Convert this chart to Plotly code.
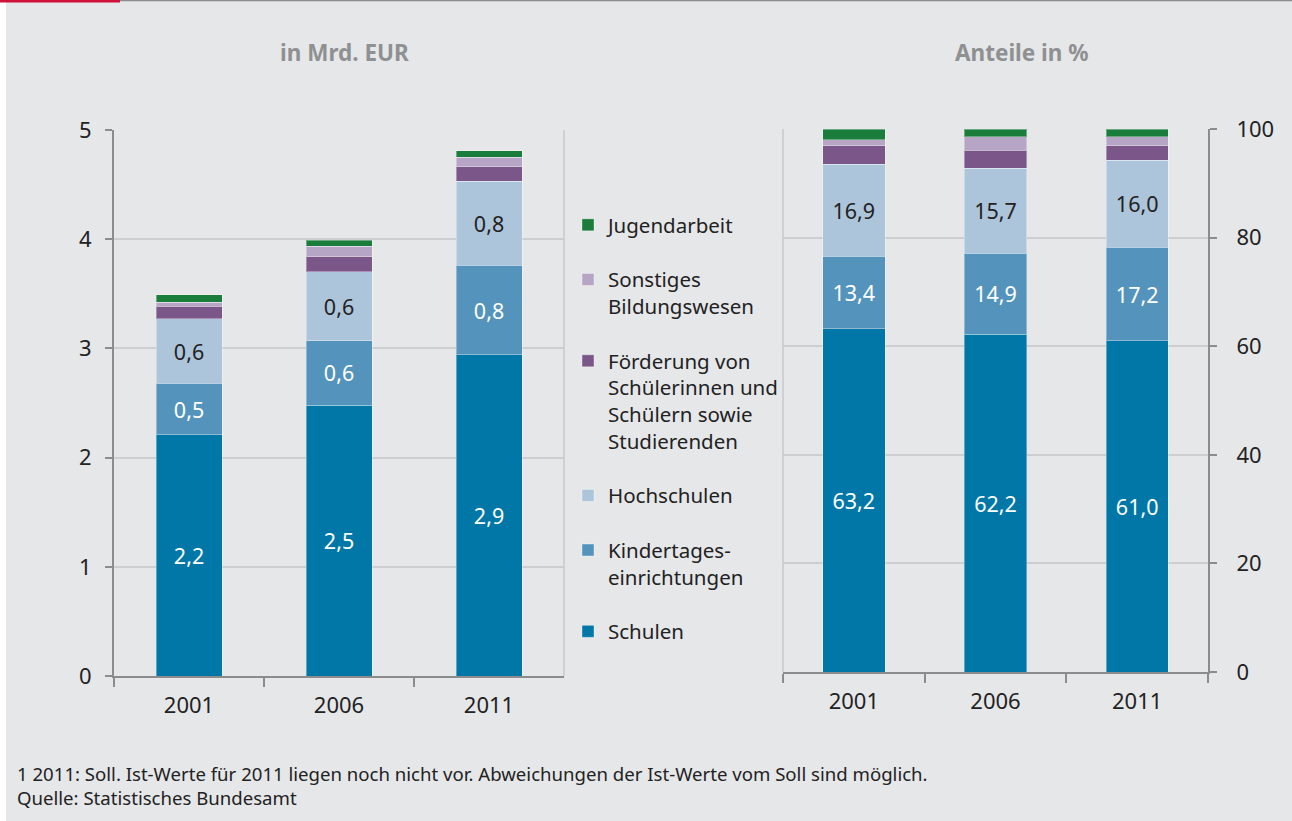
import plotly.graph_objects as go

years = ["2001", "2006", "2011"]
series = ["Schulen", "Kindertages-<br>einrichtungen", "Hochschulen",
          "Förderung von<br>Schülerinnen und<br>Schülern sowie<br>Studierenden",
          "Sonstiges<br>Bildungswesen", "Jugendarbeit"]
colors = ["#0077a7", "#5494bc", "#adc5da", "#7a5689", "#b7a5c5", "#1b7d3b"]

# in Mrd. EUR
schulen_eur = [2.21, 2.48, 2.94]
kita_eur = [0.47, 0.59, 0.82]
hoch_eur = [0.59, 0.63, 0.77]
foerd_eur = [0.115, 0.14, 0.134]
sonst_eur = [0.037, 0.094, 0.086]
jugend_eur = [0.07, 0.055, 0.061]

# Anteile in %
schulen_pct = [63.2, 62.2, 61.0]
kita_pct = [13.4, 14.9, 17.2]
hoch_pct = [16.9, 15.7, 16.0]
foerd_pct = [3.4, 3.3, 2.7]
sonst_pct = [1.1, 2.5, 1.7]
jugend_pct = [2.0, 1.4, 1.4]

eur = [schulen_eur, kita_eur, hoch_eur, foerd_eur, sonst_eur, jugend_eur]
pct = [schulen_pct, kita_pct, hoch_pct, foerd_pct, sonst_pct, jugend_pct]
label_colors = ["white", "white", "#222222", None, None, None]

W, H = 1292, 821
FONT = "Noto Sans"
fig = go.Figure()

for i, name in enumerate(series):
    show_text = label_colors[i] is not None
    common = dict(
        marker=dict(color=colors[i], line=dict(color="rgba(255,255,255,0.35)", width=1)),
        width=0.44,
        textposition="inside" if show_text else "none",
        insidetextanchor="middle",
        textangle=0,
        textfont=dict(color=label_colors[i] or "white", size=21.5, family=FONT),
        legendgroup=f"g{i}",
        legendrank=100 - i,
        hoverinfo="skip",
    )
    fig.add_trace(go.Bar(x=years, y=eur[i], name=name, xaxis="x", yaxis="y",
                         texttemplate="%{y:.1f}" if show_text else None,
                         showlegend=True, **common))
    fig.add_trace(go.Bar(x=years, y=pct[i], name=name, xaxis="x2", yaxis="y2",
                         texttemplate="%{y:.1f}" if show_text else None,
                         showlegend=False, **common))

def px_x(p):
    return p / W

def px_y(p):
    return 1 - p / H

axis_line = "#8c8c8c"
grid = "#cdced0"
tickfont = dict(family=FONT, size=22, color="#222222")

xcommon = dict(type="category", showline=True, linecolor=axis_line, linewidth=2,
               ticks="outside", tickson="boundaries", ticklen=9, tickcolor=axis_line,
               tickwidth=1.5, tickfont=tickfont, showgrid=False, automargin=False,
               zeroline=False, ticklabelstandoff=9)
ycommon = dict(showline=True, linecolor=axis_line, linewidth=2, ticks="outside", ticklen=7,
               tickcolor=axis_line, tickwidth=1.5, tickfont=tickfont, gridcolor=grid,
               gridwidth=1.5, zeroline=False, automargin=False)

fig.update_layout(
    template="none",
    width=W, height=H, autosize=False,
    margin=dict(l=0, r=0, t=0, b=0, pad=0),
    paper_bgcolor="#e6e7e9", plot_bgcolor="#e6e7e9",
    barmode="stack",
    separators=",.",
    font=dict(family=FONT, color="#222222"),
    xaxis=dict(domain=[px_x(114), px_x(564)], anchor="y", **xcommon),
    yaxis=dict(domain=[px_y(676), px_y(130)], anchor="x", range=[0, 5], dtick=1,
               ticklabelstandoff=9, **ycommon),
    xaxis2=dict(domain=[px_x(783), px_x(1208)], anchor="y2", **xcommon),
    yaxis2=dict(domain=[px_y(672), px_y(129)], anchor="x2", side="right", range=[0, 100],
                dtick=20, ticklabelstandoff=15, **ycommon),
    legend=dict(x=px_x(568), xanchor="left", y=px_y(205), yanchor="top",
                font=dict(family=FONT, size=20.5, color="#222222"),
                tracegroupgap=25, valign="top", bgcolor="rgba(0,0,0,0)",
                traceorder="grouped",
                itemclick=False, itemdoubleclick=False),
    showlegend=True,
)

# edge lines opposite to axes
fig.add_shape(type="line", xref="x domain", yref="y domain", x0=1, x1=1, y0=0, y1=1,
              line=dict(color="#c8c9cb", width=1.5))
fig.add_shape(type="line", xref="x2 domain", yref="y2 domain", x0=0, x1=0, y0=0, y1=1,
              line=dict(color="#c8c9cb", width=1.5))
# white strip at the left edge
fig.add_shape(type="rect", xref="paper", yref="paper", x0=0, x1=px_x(6), y0=0, y1=1,
              fillcolor="white", line=dict(width=0), layer="above")
# top rule
fig.add_shape(type="line", xref="paper", yref="paper", x0=0, x1=1, y0=1, y1=1,
              line=dict(color="#8c8c8c", width=2.5))
fig.add_shape(type="line", xref="paper", yref="paper", x0=0, x1=px_x(120), y0=1, y1=1,
              line=dict(color="#d0103a", width=5))

title_font = dict(family=FONT, size=22.5, color="#8f9092")
fig.add_annotation(text="<b>in Mrd. EUR</b>", xref="paper", yref="paper", x=px_x(345), y=px_y(52),
                   xanchor="center", yanchor="middle", showarrow=False, font=title_font)
fig.add_annotation(text="<b>Anteile in %</b>", xref="paper", yref="paper", x=px_x(1022), y=px_y(52),
                   xanchor="center", yanchor="middle", showarrow=False, font=title_font)
fig.add_annotation(
    text="1 2011: Soll. Ist-Werte für 2011 liegen noch nicht vor. Abweichungen der Ist-Werte vom Soll sind möglich.<br>Quelle: Statistisches Bundesamt",
    xref="paper", yref="paper", x=px_x(15), y=px_y(759), xanchor="left", yanchor="top",
    align="left", showarrow=False, font=dict(family=FONT, size=18.6, color="#222222"))

fig.write_html("out.html", config={"displayModeBar": False},
               post_script="document.body.style.margin='0';document.body.style.overflow='hidden';")
